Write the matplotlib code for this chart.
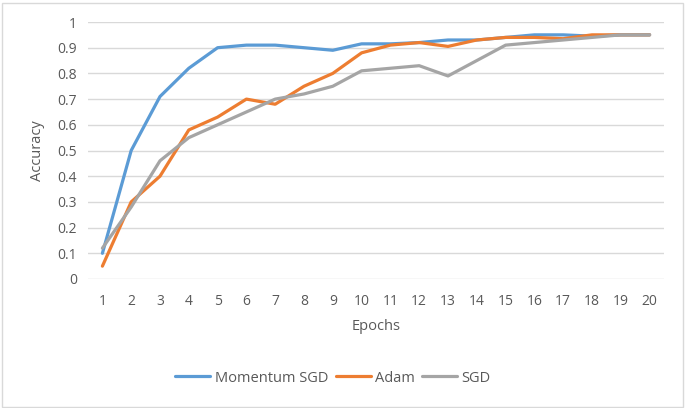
import matplotlib.pyplot as plt
from matplotlib.patches import Rectangle

plt.rcParams['font.family'] = ['Open Sans', 'DejaVu Sans']

# Data
epochs = list(range(1, 21))
momentum_sgd = [0.10, 0.50, 0.71, 0.82, 0.90, 0.91, 0.91, 0.90, 0.89, 0.915,
                0.915, 0.92, 0.93, 0.93, 0.94, 0.95, 0.95, 0.945, 0.95, 0.95]
adam = [0.05, 0.30, 0.40, 0.58, 0.63, 0.70, 0.68, 0.75, 0.80, 0.88,
        0.91, 0.92, 0.905, 0.93, 0.94, 0.94, 0.935, 0.95, 0.95, 0.95]
sgd = [0.12, 0.28, 0.46, 0.55, 0.60, 0.65, 0.70, 0.72, 0.75, 0.81,
       0.82, 0.83, 0.79, 0.85, 0.91, 0.92, 0.93, 0.94, 0.95, 0.95]
yticks = [0, 0.1, 0.2, 0.3, 0.4, 0.5, 0.6, 0.7, 0.8, 0.9, 1]
ytick_labels = ['0', '0.1', '0.2', '0.3', '0.4', '0.5', '0.6', '0.7', '0.8', '0.9', '1']

W, H = 685, 408
fig = plt.figure(figsize=(W / 100, H / 100), dpi=100)
ax = fig.add_axes([88 / W, 1 - 279 / H, (664 - 88) / W, (279 - 22) / H])

txt = '#595959'
ax.plot(epochs, momentum_sgd, color='#5B9BD5', lw=2.3, label='Momentum SGD', solid_capstyle='round')
ax.plot(epochs, adam, color='#ED7D31', lw=2.3, label='Adam', solid_capstyle='round')
ax.plot(epochs, sgd, color='#A5A5A5', lw=2.3, label='SGD', solid_capstyle='round')

ax.set_xlim(0.5, 20.5)
ax.set_ylim(0, 1)
ax.set_xticks(epochs)
ax.set_yticks(yticks)
ax.set_yticklabels(ytick_labels)
ax.grid(axis='y', color='#d9d9d9', lw=1)
ax.set_axisbelow(True)
for s in ax.spines.values():
    s.set_visible(False)
ax.tick_params(length=0, labelsize=10, colors=txt, pad=8)
ax.tick_params(axis='x', pad=11)
ax.set_xlabel('Epochs', fontsize=10.5, color=txt, labelpad=7)
ax.set_ylabel('Accuracy', fontsize=10.5, color=txt, labelpad=9)

fig.legend(loc='center', bbox_to_anchor=(333 / W, 1 - 378 / H), ncol=3, frameon=False,
           fontsize=10.5, labelcolor=txt, handlelength=2.4, handletextpad=0.3, columnspacing=0.5)

# chart frame
fig.add_artist(Rectangle((2 / W, 1 / H), (683 - 2) / W, (405 - 1) / H, transform=fig.transFigure,
                         fill=False, edgecolor='#d9d9d9', lw=1))

fig.savefig('out.png', dpi=100)
